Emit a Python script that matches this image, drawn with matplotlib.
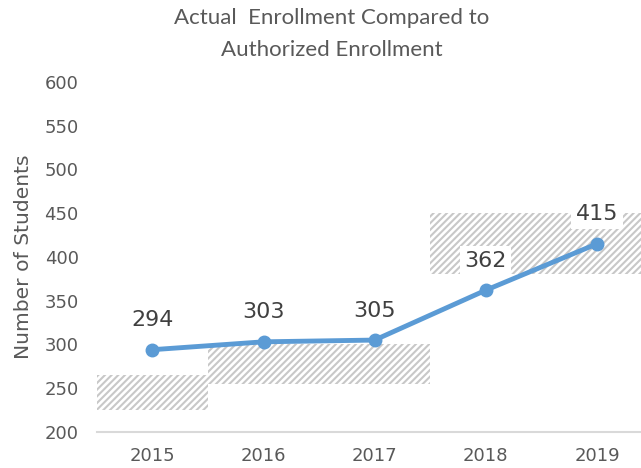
import matplotlib.pyplot as plt
import matplotlib as mpl

# chart data
years = ['2015', '2016', '2017', '2018', '2019']
actual = [294, 303, 305, 362, 415]
auth_low = [225, 255, 255, 380, 380]
auth_high = [265, 300, 300, 450, 450]

plt.rcParams['font.family'] = ['DejaVu Sans']
mpl.rcParams['hatch.linewidth'] = 1.5
text_col = '#595959'

fig = plt.figure(figsize=(6.41, 4.68), dpi=100)
ax = fig.add_axes([0.151, 0.077, 0.867, 0.748])

x = list(range(len(years)))
heights = [h - l for l, h in zip(auth_low, auth_high)]

# authorized enrollment range as hatched floating bars
ax.bar(x, heights, bottom=auth_low, width=1.0, facecolor='white',
       edgecolor='#c8c8c8', linewidth=0, hatch='/////', zorder=1)

# actual enrollment line
ax.plot(x, actual, color='#5b9bd5', linewidth=3.5, marker='o',
        markersize=9, zorder=3)

for xi, v in zip(x, actual):
    ax.annotate(str(v), (xi, v), xytext=(0, 14), textcoords='offset points',
                ha='center', va='bottom', fontsize=16, color='#404040',
                bbox=dict(boxstyle='square,pad=0.2', fc='white', ec='none'),
                zorder=4)

ax.set_xlim(-0.5, 4.5)
ax.set_ylim(200, 600)
ax.set_yticks(range(200, 601, 50))
ax.set_xticks(x)
ax.set_xticklabels(years)
ax.tick_params(axis='both', length=0, labelsize=13, colors=text_col)
ax.tick_params(axis='y', pad=13)
ax.tick_params(axis='x', pad=11)

for s in ['top', 'right', 'left']:
    ax.spines[s].set_visible(False)
ax.spines['bottom'].set_color('#d9d9d9')
ax.spines['bottom'].set_linewidth(1.5)

ax.set_ylabel('Number of Students', fontsize=14.6, color=text_col, labelpad=8)
fig.text(0.517, 0.982, 'Actual  Enrollment Compared to\nAuthorized Enrollment',
         ha='center', va='top', fontsize=16, color=text_col,
         family=['Lato', 'DejaVu Sans'], linespacing=1.75)

fig.savefig('out.png', dpi=100)
